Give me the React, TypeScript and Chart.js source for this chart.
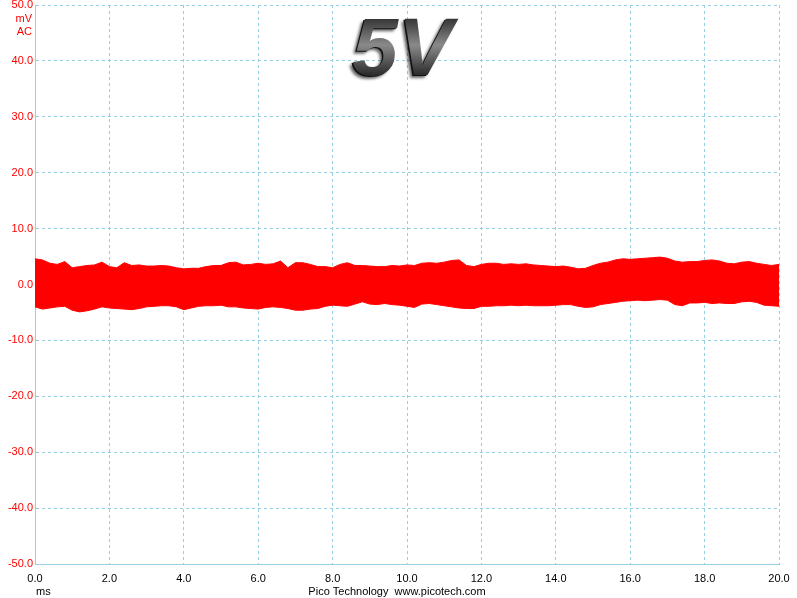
import React, { useEffect, useRef } from "react";
import { Chart, registerables } from "chart.js";

Chart.register(...registerables);

const TIME_MS = [
  0.0, 0.2, 0.4, 0.6, 0.8, 1.0, 1.2, 1.4, 1.6, 1.8,
  2.0, 2.2, 2.4, 2.6, 2.8, 3.0, 3.2, 3.4, 3.6, 3.8,
  4.0, 4.2, 4.4, 4.6, 4.8, 5.0, 5.2, 5.4, 5.6, 5.8,
  6.0, 6.2, 6.4, 6.6, 6.8, 7.0, 7.2, 7.4, 7.6, 7.8,
  8.0, 8.2, 8.4, 8.6, 8.8, 9.0, 9.2, 9.4, 9.6, 9.8,
  10.0, 10.2, 10.4, 10.6, 10.8, 11.0, 11.2, 11.4, 11.6, 11.8,
  12.0, 12.2, 12.4, 12.6, 12.8, 13.0, 13.2, 13.4, 13.6, 13.8,
  14.0, 14.2, 14.4, 14.6, 14.8, 15.0, 15.2, 15.4, 15.6, 15.8,
  16.0, 16.2, 16.4, 16.6, 16.8, 17.0, 17.2, 17.4, 17.6, 17.8,
  18.0, 18.2, 18.4, 18.6, 18.8, 19.0, 19.2, 19.4, 19.6, 19.8,
  20.0,
];

// upper envelope of the noise trace (mV)
const UPPER_MV = [
  4.6, 4.4, 3.8, 3.6, 4.1, 3.0, 3.2, 3.4, 3.5, 4.0,
  3.2, 3.0, 3.9, 3.4, 3.5, 3.3, 3.3, 3.4, 3.3, 3.0,
  2.8, 2.9, 2.9, 3.2, 3.4, 3.4, 3.9, 4.0, 3.5, 3.6,
  3.8, 3.6, 3.7, 4.2, 3.0, 3.9, 3.9, 3.6, 3.2, 3.2,
  3.0, 3.6, 3.9, 3.4, 3.4, 3.3, 3.2, 3.2, 3.4, 3.3,
  3.5, 3.4, 3.8, 3.9, 3.8, 4.0, 4.3, 4.4, 3.4, 3.2,
  3.6, 3.8, 3.8, 3.6, 3.7, 3.6, 3.7, 3.5, 3.4, 3.3,
  3.2, 3.3, 3.1, 2.8, 2.9, 3.4, 3.8, 4.0, 4.4, 4.6,
  4.5, 4.6, 4.7, 4.8, 4.9, 4.7, 4.2, 4.0, 4.1, 4.1,
  4.3, 4.4, 4.2, 3.8, 3.7, 4.0, 4.1, 3.8, 3.6, 3.4,
  3.6,
];

// lower envelope of the noise trace (mV)
const LOWER_MV = [
  -4.0, -4.4, -4.2, -4.0, -3.9, -4.6, -4.9, -4.7, -4.4, -4.0,
  -4.2, -4.3, -4.4, -4.5, -4.3, -4.0, -3.9, -3.8, -3.8, -4.0,
  -4.5, -4.2, -3.9, -3.8, -3.8, -3.7, -4.0, -4.0, -4.2, -4.3,
  -4.4, -4.1, -4.0, -4.1, -4.3, -4.6, -4.6, -4.4, -4.3, -3.9,
  -3.7, -3.8, -3.9, -3.5, -3.1, -3.5, -3.6, -3.4, -3.6, -3.7,
  -3.9, -4.1, -3.5, -3.4, -3.6, -3.8, -4.0, -4.2, -4.3, -4.3,
  -3.9, -3.9, -3.8, -3.8, -3.7, -3.8, -3.7, -3.8, -3.8, -3.8,
  -3.7, -3.6, -3.6, -3.9, -4.1, -4.0, -3.6, -3.4, -3.2, -3.0,
  -2.9, -2.8, -2.9, -2.8, -2.7, -2.8, -3.6, -3.8, -3.3, -3.3,
  -3.2, -3.4, -3.3, -3.4, -3.4, -3.1, -3.0, -3.2, -3.7, -3.8,
  -3.9,
];

const TITLE = "5V";
const Y_UNIT = "mV";
const Y_COUPLING = "AC";
const X_UNIT = "ms";
const FOOTER = "Pico Technology  www.picotech.com";

const FONT = '"Liberation Sans", Arial, sans-serif';
const GRID = "rgb(150, 206, 226)";

const overlayPlugin = {
  id: "overlay",
  afterDraw(chart: any) {
    const ctx = chart.ctx as CanvasRenderingContext2D;
    const area = chart.chartArea;
    ctx.save();
    // unit labels
    ctx.font = `11px ${FONT}`;
    ctx.fillStyle = "#ff0000";
    ctx.textAlign = "right";
    ctx.textBaseline = "middle";
    ctx.fillText(Y_UNIT, area.left - 3, 19);
    ctx.fillText(Y_COUPLING, area.left - 3, 32);
    ctx.fillStyle = "#000";
    ctx.textAlign = "left";
    ctx.fillText(X_UNIT, area.left + 1, 592);
    ctx.textAlign = "center";
    ctx.fillText(FOOTER, 397, 592);

    // big title
    ctx.font = `italic bold 82px ${FONT}`;
    ctx.textAlign = "center";
    ctx.textBaseline = "alphabetic";
    const cx = 401;
    const by = 76;
    ctx.shadowColor = "rgba(0,0,0,0.6)";
    ctx.shadowBlur = 3;
    ctx.shadowOffsetX = -2;
    ctx.shadowOffsetY = 2;
    ctx.fillStyle = "#111";
    ctx.fillText(TITLE, cx, by);
    ctx.shadowColor = "transparent";
    const g = ctx.createLinearGradient(0, 18, 0, 78);
    g.addColorStop(0, "#333");
    g.addColorStop(0.45, "#8a8a8a");
    g.addColorStop(1, "#222");
    ctx.fillStyle = g;
    ctx.fillText(TITLE, cx + 1.5, by - 1.5);
    ctx.restore();
  },
};

export default function App() {
  const ref = useRef<HTMLCanvasElement | null>(null);

  useEffect(() => {
    document.body.style.margin = "0";
    const canvas = ref.current;
    if (!canvas) return;
    const upper = TIME_MS.map((t, i) => ({ x: t, y: UPPER_MV[i] }));
    const lower = TIME_MS.map((t, i) => ({ x: t, y: LOWER_MV[i] }));
    const chart = new Chart(canvas, {
      type: "line",
      data: {
        datasets: [
          {
            data: upper,
            borderColor: "#ff0000",
            backgroundColor: "#ff0000",
            borderWidth: 1,
            pointRadius: 0,
            tension: 0,
            fill: 1,
          },
          {
            data: lower,
            borderColor: "#ff0000",
            backgroundColor: "#ff0000",
            borderWidth: 1,
            pointRadius: 0,
            tension: 0,
            fill: false,
          },
        ],
      },
      options: {
        animation: false,
        responsive: false,
        maintainAspectRatio: false,
        layout: { padding: { top: 5, right: 18, left: 0, bottom: 0 } },
        plugins: {
          legend: { display: false },
          tooltip: { enabled: false },
          title: { display: false },
        },
        scales: {
          x: {
            type: "linear",
            min: 0,
            max: 20,
            afterFit: (s: any) => {
              s.height = 34;
              s.paddingLeft = 0;
              s.paddingRight = 0;
            },
            ticks: {
              stepSize: 2,
              color: "#000",
              font: { family: FONT, size: 11 },
              padding: 8,
              maxRotation: 0,
              autoSkip: false,
              callback: (v: any) => Number(v).toFixed(1),
            },
            grid: {
              color: GRID,
              drawTicks: false,
            },
            border: { display: true, color: GRID, dash: [3, 3] },
          },
          y: {
            type: "linear",
            min: -50,
            max: 50,
            afterFit: (s: any) => {
              s.width = 35;
              s.paddingTop = 0;
              s.paddingBottom = 0;
            },
            ticks: {
              stepSize: 10,
              color: "#ff0000",
              font: { family: FONT, size: 11 },
              padding: 2,
              autoSkip: false,
              callback: (v: any) => Number(v).toFixed(1),
            },
            grid: {
              color: GRID,
              drawTicks: false,
            },
            border: { display: true, color: GRID, dash: [3, 3] },
          },
        },
      } as any,
      plugins: [overlayPlugin],
    });
    return () => chart.destroy();
  }, []);

  return (
    <div style={{ position: "absolute", left: 0, top: 0, width: 797, height: 598, background: "#fff" }}>
      <canvas ref={ref} width={797} height={598} style={{ display: "block" }} />
    </div>
  );
}
